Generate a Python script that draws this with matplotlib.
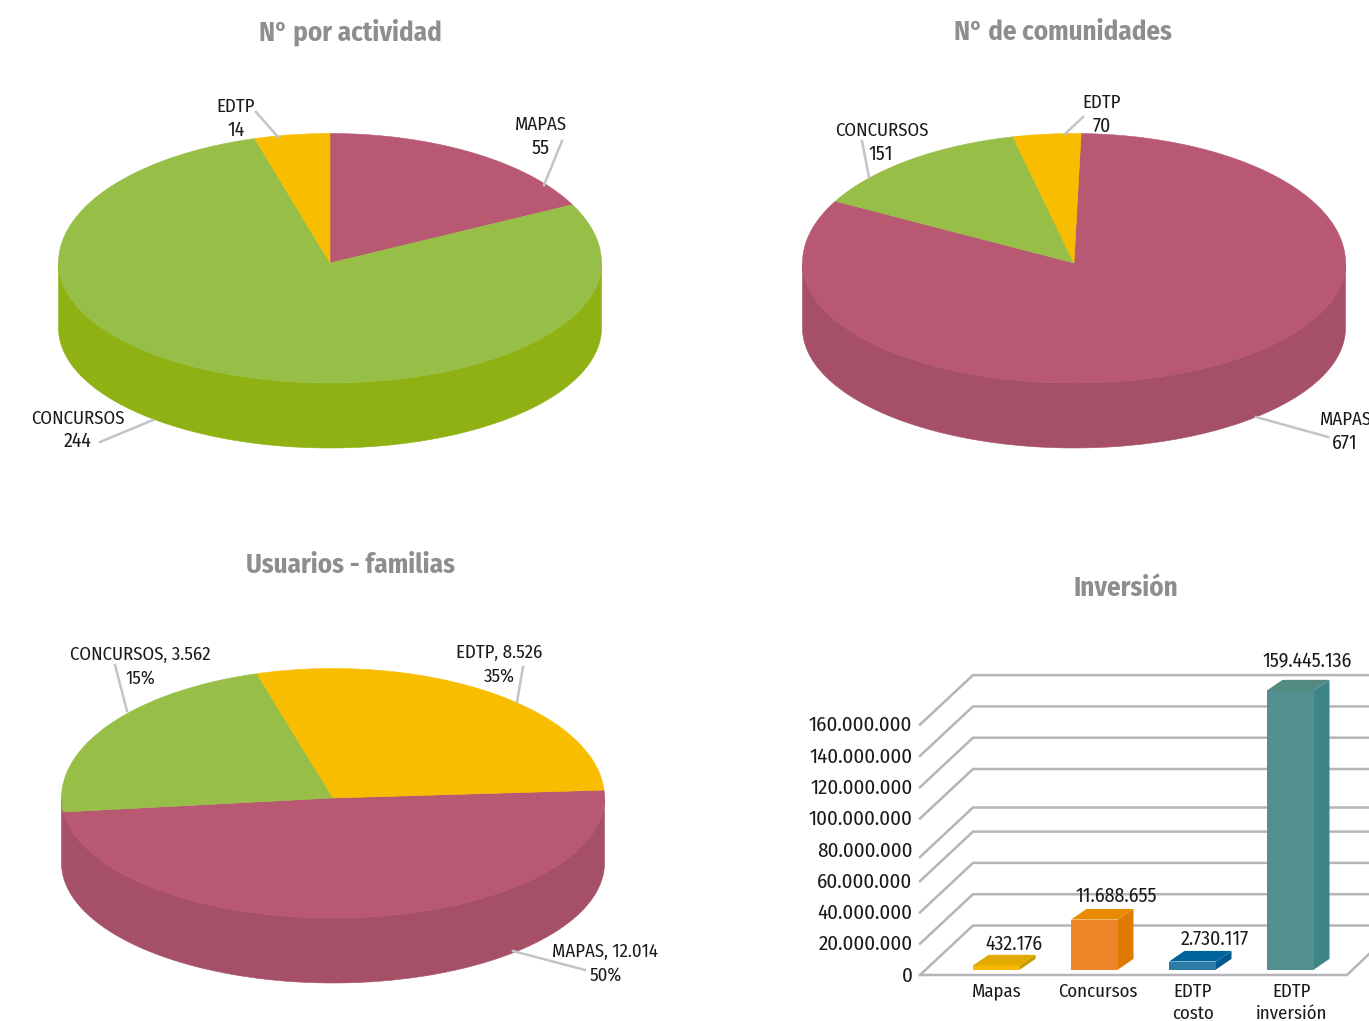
import numpy as np
import matplotlib
matplotlib.use("Agg")
import matplotlib.pyplot as plt
from matplotlib.transforms import ScaledTranslation
import logging
logging.getLogger('matplotlib.font_manager').setLevel(logging.ERROR)

W, H = 1369, 1021
FONT = ['Fira Sans Condensed', 'PT Sans Narrow', 'Lato', 'DejaVu Sans']
plt.rcParams['font.family'] = FONT

# ---- data -------------------------------------------------------------
act_names = ['MAPAS', 'CONCURSOS', 'EDTP']
act_values = [55, 244, 14]
com_names = ['MAPAS', 'CONCURSOS', 'EDTP']
com_values = [671, 151, 70]
# the slices of these two pies are not drawn in proportion to their labels
com_drawn = [297.0, 48.5, 14.5]
usu_names = ['MAPAS', 'CONCURSOS', 'EDTP']
usu_values = ['12.014', '3.562', '8.526']
usu_percent = ['50%', '15%', '35%']
usu_drawn = [176.8, 80.4, 102.8]

inv_names = ['Mapas', 'Concursos', 'EDTP\ncosto', 'EDTP\ninversión']
inv_labels = ['432.176', '11.688.655', '2.730.117', '159.445.136']
inv_drawn = [2.6, 31.9, 5.1, 178.3]      # bar heights as drawn, millions
y_ticks = [0, 20, 40, 60, 80, 100, 120, 140, 160]
y_ticklabels = ['0', '20.000.000', '40.000.000', '60.000.000', '80.000.000',
                '100.000.000', '120.000.000', '140.000.000', '160.000.000']
grid_levels = [0, 20, 40, 60, 75.4, 100, 120, 140, 160]

# ---- styles -----------------------------------------------------------
RED, RED_D = '#b85873', '#a65068'
GRN, GRN_D = '#97bf47', '#8fb113'
YEL, YEL_D = '#f9bd00', '#d9a500'
TXT = '#1a1a1a'
TITLE = '#8e8e8e'
LEAD = '#c3c3c9'
GRID = '#b4b4ba'
FS_LABEL = 13.5
FS_VALUE = 14.3
FS_TICK = 15.1
FS_TITLE = 19.4

fig = plt.figure(figsize=(W / 100, H / 100), dpi=100, facecolor='white')


def fx(px):
    return px / W


def fy(py):
    return 1 - py / H


def label(px, py, s, size=FS_LABEL, **kw):
    fig.text(fx(px), fy(py + 1), s, ha=kw.pop('ha', 'center'), va='center',
             fontsize=size, color=kw.pop('color', TXT), **kw)


def leader(p0, p1):
    fig.add_artist(plt.Line2D([fx(p0[0]), fx(p1[0])], [fy(p0[1]), fy(p1[1])],
                              color=LEAD, lw=1.8, zorder=5))


def pie3d(cx, cy, sizes, start, tops, walls):
    """Top ellipse is lopsided: 129.5 px above the apex, 120 px below it."""
    rx, up, down, depth = 271.5, 129.5, 120, 65
    ax = fig.add_axes([fx(cx - rx), fy(cy + down), 2 * rx / W, (up + down) / H])
    ax.set_xlim(-1, 1)
    ax.set_ylim(-down, up)
    ax.axis('off')
    edges = start + np.cumsum([0] + list(sizes))

    def ry(t):
        c = np.cos(t)
        return c * np.where(c > 0, up, down)

    for i in range(len(sizes)):
        for shift in (0, 360):
            lo = max(edges[i], 90 + shift)
            hi = min(edges[i + 1], 270 + shift)
            if hi > lo:
                t = np.radians(np.linspace(lo, hi, 200))
                xs = np.r_[np.sin(t), np.sin(t)[::-1]]
                ys = np.r_[ry(t), ry(t)[::-1] - depth]
                ax.fill(xs, ys, color=walls[i], lw=0.4, clip_on=False, zorder=1)
    for i in range(len(sizes)):
        t = np.radians(np.linspace(edges[i], edges[i + 1], 300))
        ax.fill(np.r_[0, np.sin(t)], np.r_[0, ry(t)], color=tops[i], lw=0.4,
                clip_on=False, zorder=2)


# ---- pies -------------------------------------------------------------
act_angles = 360 * np.array(act_values) / sum(act_values)
pie3d(330, 263, act_angles, 0, [RED, GRN, YEL], [RED_D, GRN_D, YEL_D])
pie3d(1074, 263, com_drawn, 1.5, [RED, GRN, YEL], [RED_D, GRN_D, YEL_D])
pie3d(333, 798, usu_drawn, 86.5, [RED, GRN, YEL], [RED_D, RED_D, YEL_D])

label(350, 31, 'N° por actividad', FS_TITLE, color=TITLE, fontweight='bold')
label(1063, 31, 'N° de comunidades', FS_TITLE, color=TITLE, fontweight='bold')
label(350, 564, 'Usuarios - familias', FS_TITLE, color=TITLE, fontweight='bold')
label(1126, 587, 'Inversión', FS_TITLE, color=TITLE, fontweight='bold')

leader((562, 141), (544, 185))
leader((256, 112), (278, 137))
leader((100, 442), (153, 420))
label(541, 124, act_names[0]); label(541, 147, str(act_values[0]), FS_VALUE)
label(78, 418, act_names[1]); label(78, 440, str(act_values[1]), FS_VALUE)
label(236, 106, act_names[2]); label(236, 129, str(act_values[2]), FS_VALUE)

leader((1083, 117), (1065, 134))
leader((862, 141), (869, 177))
leader((1328, 437), (1256, 417))
label(1320, 419, com_names[0], ha='left'); label(1345, 442, str(com_values[0]), FS_VALUE)
label(882, 130, com_names[1]); label(881, 153, str(com_values[1]), FS_VALUE)
label(1102, 102, com_names[2]); label(1102, 125, str(com_values[2]), FS_VALUE)

leader((115, 665), (127, 711))
leader((523, 667), (517, 702))
leader((585, 970), (513, 951))
label(605, 951, f'{usu_names[0]}, {usu_values[0]}'); label(606, 974, usu_percent[0])
label(140, 654, f'{usu_names[1]}, {usu_values[1]}'); label(140, 677, usu_percent[1])
label(499, 652, f'{usu_names[2]}, {usu_values[2]}'); label(499, 675, usu_percent[2])

# ---- 3-D look column chart ---------------------------------------------
PX_X = 98.0      # px per category
PX_Y = 1.565     # px per million
X0 = 996.5       # px of category 0
LEFT, BASE, TOP = 920, 975, 640
ax = fig.add_axes([fx(LEFT), fy(BASE), (W - LEFT) / W, (BASE - TOP) / H])
ax.set_xlim((LEFT - X0) / PX_X, (W - X0) / PX_X)
ax.set_ylim(0, (BASE - TOP) / PX_Y)
ax.patch.set_alpha(0)
for s in ax.spines.values():
    s.set_visible(False)

x_left = (LEFT - X0) / PX_X
x_back = (973 - X0) / PX_X
x_floor_r = (1347 - X0) / PX_X
x_end = (W - X0) / PX_X
wall_rise = 49.5 / PX_Y
for g in grid_levels:
    ax.plot([x_left, x_back, x_end], [g, g + wall_rise, g + wall_rise],
            color=GRID, lw=1.8, solid_joinstyle='miter', clip_on=False, zorder=1)
ax.plot([x_left, x_floor_r, x_end], [0, 0, 21 / PX_Y],
        color=GRID, lw=1.8, solid_joinstyle='miter', clip_on=False, zorder=1)

bar_front = ['#f8b900', '#ee8629', '#2c7ba8', '#528f8e']
bar_top = ['#e0aa00', '#e98a00', '#00649a', '#538a82']
bar_side = ['#c99a00', '#dd7a00', '#00598c', '#3f8588']
bw = 47 / PX_X
dx = 15.5 / PX_X
dy = 10.6 / PX_Y
y0 = 5.5 / PX_Y
xs_pos = np.arange(len(inv_drawn))
ax.bar(xs_pos, inv_drawn, width=bw, bottom=y0, color=bar_front, lw=0, zorder=3)
for x, h, ct, cs in zip(xs_pos, inv_drawn, bar_top, bar_side):
    l, r, b, t = x - bw / 2, x + bw / 2, y0, y0 + h
    ax.fill([l, r, r + dx, l + dx], [t, t, t + dy, t + dy], color=ct, lw=0, zorder=3)
    ax.fill([r, r + dx, r + dx, r], [b, b + dy, t + dy, t], color=cs, lw=0, zorder=3)

ax.set_yticks(y_ticks, y_ticklabels, fontsize=FS_TICK, color=TXT)
ax.set_xticks(xs_pos + np.array([0, 0.035, 0.005, 0.015]), inv_names,
              fontsize=FS_LABEL, color=TXT, linespacing=1.3, va='top')
ax.tick_params(axis='both', length=0)
ax.tick_params(axis='y', pad=5.5)
ax.tick_params(axis='x', pad=5.5)
for lab in ax.get_yticklabels():
    lab.set_va('center')
    lab.set_transform(lab.get_transform() + ScaledTranslation(0, -0.01, fig.dpi_scale_trans))

label(1014, 943, inv_labels[0], FS_VALUE)
label(1116, 895, inv_labels[1], FS_VALUE)
label(1215, 938, inv_labels[2], FS_VALUE)
label(1307, 661, inv_labels[3], FS_VALUE)

fig.savefig('out.png', dpi=100)
